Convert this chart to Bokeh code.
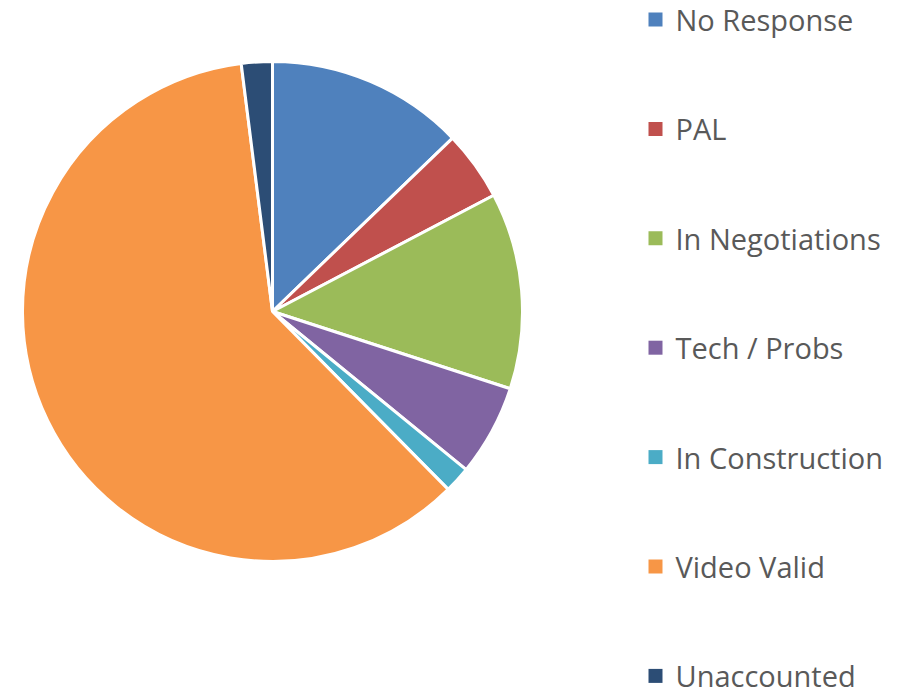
import numpy as np
from bokeh.plotting import figure
from bokeh.models import ColumnDataSource, Range1d
from bokeh.core.properties import value
from bokeh.embed import file_html
from bokeh.resources import INLINE

categories = ["No Response", "PAL", "In Negotiations", "Tech / Probs",
              "In Construction", "Video Valid", "Unaccounted"]
shares = [12.8, 4.5, 12.7, 5.9, 1.7, 60.4, 2.0]
colors = ["#4F81BD", "#C0504D", "#9BBB59", "#8064A2", "#4BACC6", "#F79646", "#2C4D75"]

W, H = 924, 695
vals = np.array(shares, dtype=float)
frac = vals / vals.sum()
cum = np.concatenate([[0.0], np.cumsum(frac)])
start = np.pi / 2 - cum[:-1] * 2 * np.pi
end = np.pi / 2 - cum[1:] * 2 * np.pi

p = figure(width=W, height=H, output_backend="svg", toolbar_location=None,
           x_range=Range1d(0, W), y_range=Range1d(0, H), min_border=0)
p.axis.visible = False
p.grid.visible = False
p.outline_line_color = None
p.background_fill_color = "white"

cx, cy, r = 272, H - 311, 250
src = ColumnDataSource(dict(start=start, end=end, color=colors, cat=categories))
p.wedge(x=cx, y=cy, radius=r, start_angle="start", end_angle="end",
        direction="clock", fill_color="color", line_color="white", line_width=3,
        source=src)

ly = [H - (19 + 109.4 * i) for i in range(len(categories))]
lsrc = ColumnDataSource(dict(x=[655] * len(categories), tx=[675] * len(categories),
                             y=ly, color=colors, cat=categories))
p.rect(x="x", y="y", width=14, height=14, fill_color="color", line_color=None, source=lsrc)
p.text(x="tx", y="y", text="cat", text_font=value("Open Sans"), text_font_size="29px",
       text_color="#595959", text_baseline="middle", text_align="left", source=lsrc)

open("out.html", "w").write(file_html(p, INLINE))
